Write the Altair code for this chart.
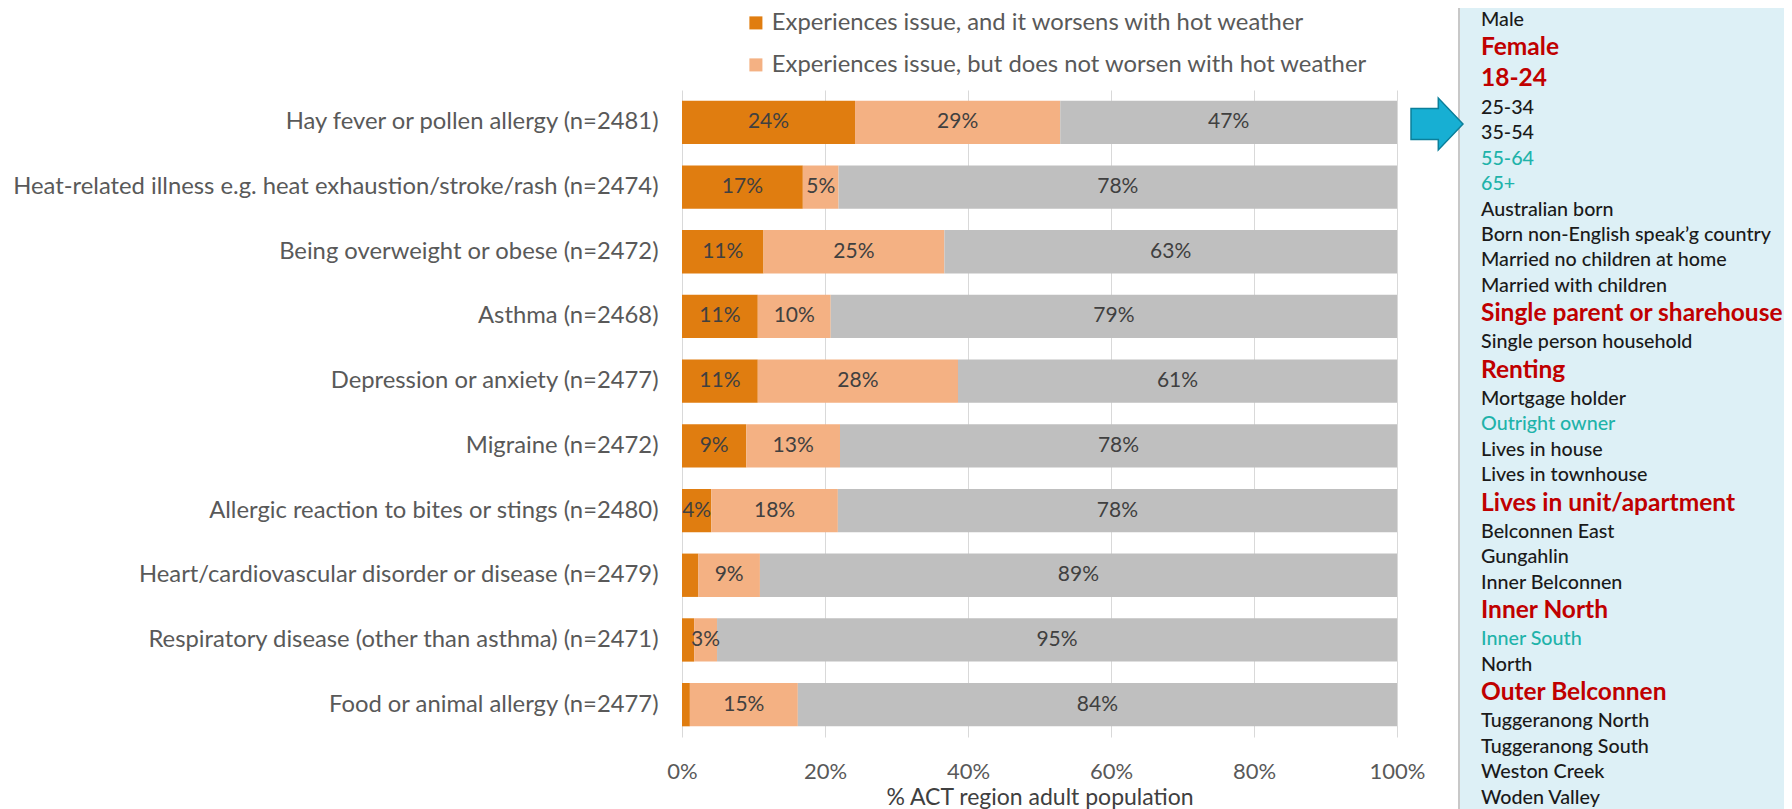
import altair as alt
import pandas as pd

FONT = "Lato"

categories = [
    "Hay fever or pollen allergy (n=2481)",
    "Heat-related illness e.g. heat exhaustion/stroke/rash (n=2474)",
    "Being overweight or obese (n=2472)",
    "Asthma (n=2468)",
    "Depression or anxiety (n=2477)",
    "Migraine (n=2472)",
    "Allergic reaction to bites or stings (n=2480)",
    "Heart/cardiovascular disorder or disease (n=2479)",
    "Respiratory disease (other than asthma) (n=2471)",
    "Food or animal allergy (n=2477)",
]
worsens = [24.2, 16.9, 11.4, 10.6, 10.6, 9.0, 4.1, 2.3, 1.7, 1.1]
not_worsen = [28.7, 5.0, 25.3, 10.2, 28.0, 13.1, 17.7, 8.6, 3.2, 15.1]
no_issue = [47.1, 78.1, 63.3, 79.2, 61.4, 77.9, 78.2, 89.1, 95.1, 83.8]

series = [
    "Experiences issue, and it worsens with hot weather",
    "Experiences issue, but does not worsen with hot weather",
    "Does not experience issue",
]
series_colors = ["#E07D10", "#F4B183", "#BFBFBF"]
x_ticks = [0, 20, 40, 60, 80, 100]

panel_items = [
    "Male", "Female", "18-24", "25-34", "35-54", "55-64", "65+",
    "Australian born", "Born non-English speak\u2019g country",
    "Married no children at home", "Married with children",
    "Single parent or sharehouse", "Single person household", "Renting",
    "Mortgage holder", "Outright owner", "Lives in house", "Lives in townhouse",
    "Lives in unit/apartment", "Belconnen East", "Gungahlin", "Inner Belconnen",
    "Inner North", "Inner South", "North", "Outer Belconnen",
    "Tuggeranong North", "Tuggeranong South", "Weston Creek", "Woden Valley",
]
panel_styles = [
    "n", "r", "r", "n", "n", "t", "t",
    "n", "n",
    "n", "n",
    "r", "n", "r",
    "n", "t", "n", "n",
    "r", "n", "n", "n",
    "r", "t", "n", "r",
    "n", "n", "n", "n",
]

rows = []
for i, cat in enumerate(categories):
    for k, vals in enumerate([worsens, not_worsen, no_issue]):
        rows.append({"category": cat, "series": series[k], "value": vals[i], "order": k})
df = pd.DataFrame(rows)

panel_df = pd.DataFrame({"item": panel_items, "style": panel_styles,
                         "idx": list(range(len(panel_items)))})
one = pd.DataFrame({"a": [0]})

W, H = 715, 647
TOTAL_W, TOTAL_H = 1776, 801

y_enc = alt.Y(
    "category:N", sort=categories,
    scale=alt.Scale(paddingInner=0.33, paddingOuter=0.165),
    axis=alt.Axis(title=None, labelFont=FONT, labelFontSize=23.8, labelColor="#595959",
                  labelPadding=24, ticks=False, domain=False, labelLimit=900),
)

bars = alt.Chart(df).mark_bar().encode(
    y=y_enc,
    x=alt.X("value:Q", stack="zero", scale=alt.Scale(domain=[0, 100], nice=False),
            axis=alt.Axis(values=x_ticks, labelExpr="datum.value + '%'",
                          title="% ACT region adult population",
                          titleFont=FONT, titleFontSize=23, titleFontWeight="normal",
                          titleColor="#404040", titlePadding=4,
                          labelFont=FONT, labelFontSize=22, labelColor="#595959",
                          labelPadding=24, labelFlush=False,
                          grid=True, gridColor="#d9d9d9",
                          ticks=False, domain=False)),
    color=alt.Color("series:N",
                    scale=alt.Scale(domain=series, range=series_colors),
                    legend=alt.Legend(values=series[:2], orient="none",
                                      legendX=62, legendY=-79, title=None,
                                      direction="vertical",
                                      labelFont=FONT, labelFontSize=23.8,
                                      labelColor="#595959", labelLimit=900,
                                      symbolType="square", symbolSize=170,
                                      symbolStrokeWidth=0, rowPadding=17,
                                      labelOffset=4)),
    order=alt.Order("order:Q"),
)

labels = alt.Chart(df).transform_stack(
    stack="value", groupby=["category"], sort=[alt.SortField("order")], as_=["v0", "v1"]
).transform_calculate(
    mid="(datum.v0 + datum.v1) / 2",
    lab="format(datum.value, '.0f') + '%'",
).transform_filter("datum.value >= 3").mark_text(
    font=FONT, fontSize=21, color="#404040"
).encode(
    y=alt.Y("category:N", sort=categories, axis=None),
    x=alt.X("mid:Q", scale=alt.Scale(domain=[0, 100], nice=False), axis=None),
    text="lab:N",
)

panel_bg = alt.Chart(one).mark_rect(color="#DDF0F6").encode(
    x=alt.value(777), x2=alt.value(1120), y=alt.value(-95), y2=alt.value(730)
)
panel_border = alt.Chart(one).mark_rule(color="#c8c8c8", strokeWidth=2).encode(
    x=alt.value(777), y=alt.value(-95), y2=alt.value(730)
)
arrow = alt.Chart(one).mark_point(
    shape="M-1,-0.6L0.05,-0.6L0.05,-1L1,0L0.05,1L0.05,0.6L-1,0.6Z",
    filled=True, fill="#17AFD3", stroke="#0B7F9A", strokeWidth=1.5, opacity=1,
    size=2700,
).encode(x=alt.value(755), y=alt.value(34))

# line heights: larger red headings take more room
py = alt.Y("pos:Q", scale=alt.Scale(domain=[0, 789], range=[-70, 708]), axis=None)

def panel_text(style, color, size, weight):
    return alt.Chart(panel_df).transform_calculate(
        lh="datum.style == 'r' ? 31.6 : 25.8"
    ).transform_window(
        cum="sum(lh)", sort=[alt.SortField("idx")], frame=[None, 0]
    ).transform_calculate(
        pos="datum.cum - datum.lh / 2 - 12.9"
    ).transform_filter(
        alt.datum.style == style
    ).mark_text(
        align="left", baseline="middle", font=FONT, fontSize=size,
        fontWeight=weight, color=color
    ).encode(x=alt.value(799), y=py, text="item:N")

t_norm = panel_text("n", "#1a1a1a", 19.7, 500)
t_red = panel_text("r", "#C00000", 24.5, "bold")
t_teal = panel_text("t", "#1FB3AA", 19.7, 500)

chart = alt.layer(
    bars, labels, panel_bg, panel_border, arrow, t_norm, t_red, t_teal
).resolve_scale(
    y="independent", x="independent"
).properties(
    width=W, height=H,
    padding={"left": 674, "top": 82, "right": TOTAL_W - 674 - W, "bottom": TOTAL_H - 82 - H},
    autosize=alt.AutoSizeParams(type="none"),
    background="white",
).configure_view(stroke=None)

chart.save("out.html", embed_options={"renderer": "svg", "actions": False})
